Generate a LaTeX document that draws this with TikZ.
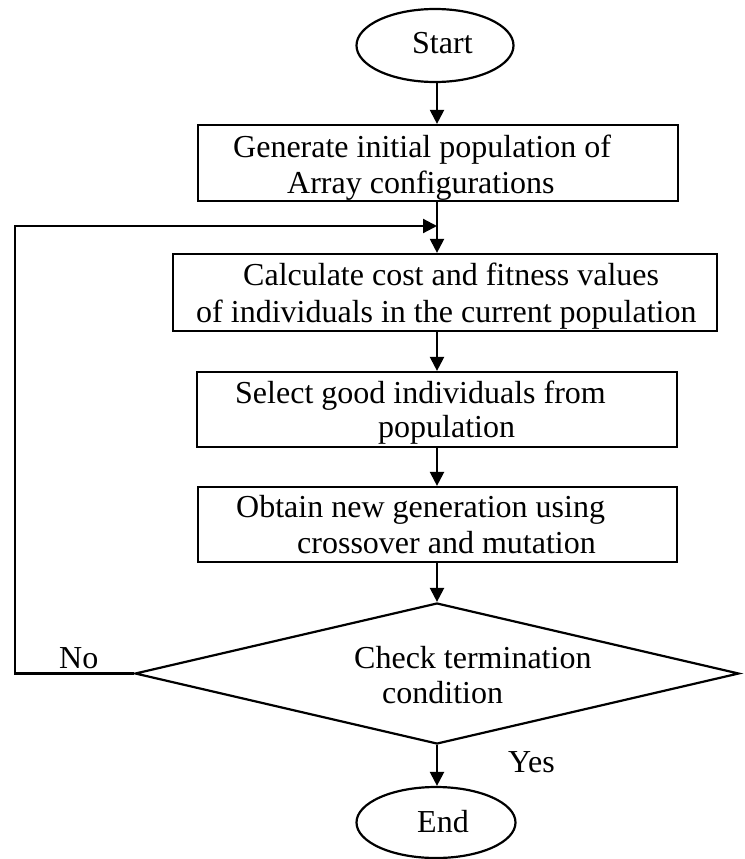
\documentclass[tikz,border=0pt]{standalone}
\usepackage{fontspec}
\setmainfont{Liberation Serif}
\usetikzlibrary{shapes.geometric,arrows.meta}
\tikzset{
  box/.style={draw, line width=2.2pt, rectangle, inner sep=0pt},
  term/.style={draw, line width=2.2pt, ellipse, inner sep=0pt},
  decision/.style={draw, line width=2.2pt, diamond, inner sep=0pt},
  txt/.style={inner sep=0pt, anchor=base west, font=\fontsize{32}{36}\selectfont},
  arr/.style={line width=2.2pt, -{Triangle[length=14pt,width=14pt]}},
}
\begin{document}
\begin{tikzpicture}[x=1pt,y=-1pt]
\path[use as bounding box] (0,0) rectangle (744,859);

% shapes
\node[term, minimum width=157pt, minimum height=73pt] (start) at (435,45.5) {};
\node[txt] (tstart) at (412,54) {Start};

\node[box, minimum width=480pt, minimum height=76pt] (b1) at (438,163) {};
\node[txt] (t1a) at (233,157) {Generate initial population of};
\node[txt] (t1b) at (287,193) {Array configurations};

\node[box, minimum width=544pt, minimum height=77pt] (b2) at (445,292.5) {};
\node[txt] (t2a) at (243,285) {Calculate cost and fitness values};
\node[txt] (t2b) at (196,322) {of individuals in the current population};

\node[box, minimum width=480pt, minimum height=75pt] (b3) at (437,409.5) {};
\node[txt] (t3a) at (235,403) {Select good individuals from};
\node[txt] (t3b) at (378,437) {population};

\node[box, minimum width=479pt, minimum height=75pt] (b4) at (437.5,524.5) {};
\node[txt] (t4a) at (236,517) {Obtain new generation using};
\node[txt] (t4b) at (297,553) {crossover and mutation};

\node[decision, minimum width=604pt, minimum height=141pt] (dia) at (437,673.5) {};
\node[txt] (tda) at (354,668) {Check termination};
\node[txt] (tdb) at (382,703) {condition};

\node[term, minimum width=159pt, minimum height=71pt] (end) at (436,822.5) {};
\node[txt] (tend) at (417,832) {End};

\node[txt] (no) at (59,668) {No};
\node[txt] (yes) at (508,772) {Yes};

% connectors
\coordinate (loopL) at (15,226);
\coordinate (join) at (437,226);

\draw[arr] (start.south -| join) -- (b1.north -| join);
\draw[arr] (b1.south -| join) -- (b2.north -| join);
\draw[arr] (dia.west) -| (loopL) -- (join);
\draw[arr] (b2.south -| join) -- (b3.north -| join);
\draw[arr] (b3.south -| join) -- (b4.north -| join);
\draw[arr] (b4.south -| join) -- (dia.north -| join);
\draw[arr] (dia.south -| join) -- (end.north -| join);
\end{tikzpicture}
\end{document}
